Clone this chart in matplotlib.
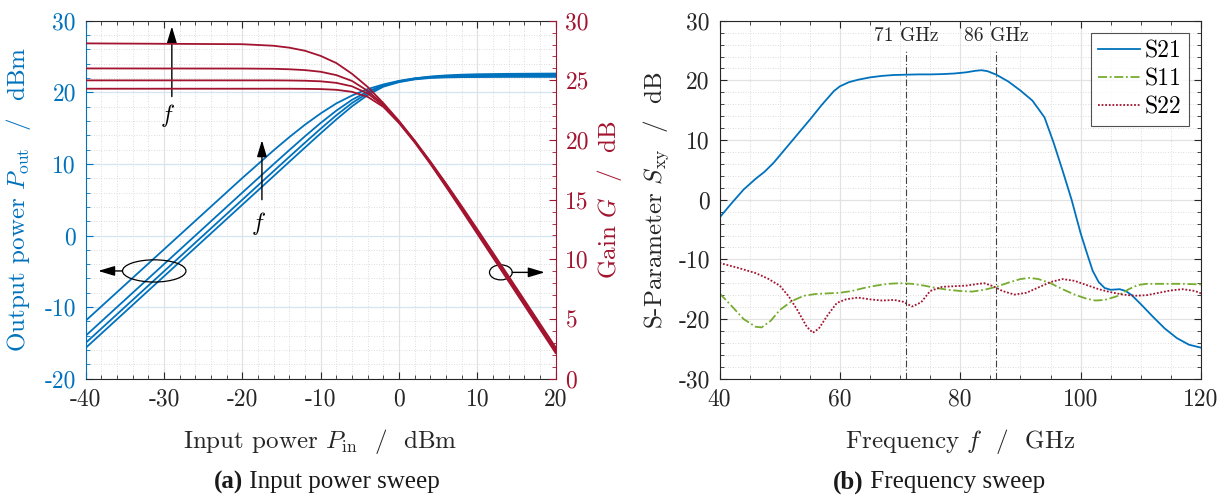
import matplotlib
matplotlib.use("Agg")
import matplotlib.pyplot as plt
from matplotlib.patches import Ellipse
from matplotlib.ticker import MultipleLocator

plt.rcParams['font.family'] = ['cmr10', 'DejaVu Serif']
plt.rcParams['mathtext.fontset'] = 'cm'
plt.rcParams['axes.unicode_minus'] = False

BLUE = '#0072BD'
RED = '#A2142F'
GREEN = '#77AC30'
DARK = '#262626'

# (a) input power sweep, four frequencies
pin = [-40, -20, -16, -14, -12, -10, -8, -6, -4, -2, 0, 2, 4, 6, 8, 10, 14, 20]
pout_1 = [-11.90, 8.03, 11.90, 13.74, 15.48, 17.05, 18.45, 19.55, 20.45, 21.10, 21.60,
          21.95, 22.20, 22.36, 22.46, 22.52, 22.58, 22.62]
pout_2 = [-14.00, 5.99, 9.97, 11.93, 13.86, 15.72, 17.44, 18.95, 20.12, 20.98, 21.55,
          21.93, 22.15, 22.28, 22.35, 22.39, 22.43, 22.45]
pout_3 = [-15.00, 5.00, 9.00, 10.99, 12.97, 14.92, 16.79, 18.50, 19.90, 20.90, 21.48,
          21.86, 22.07, 22.18, 22.23, 22.26, 22.29, 22.30]
pout_4 = [-15.70, 4.30, 8.30, 10.30, 12.29, 14.27, 16.21, 18.04, 19.62, 20.78, 21.42,
          21.80, 22.00, 22.08, 22.12, 22.13, 22.15, 22.15]
gain_1 = [28.10, 28.03, 27.90, 27.74, 27.48, 27.05, 26.45, 25.55, 24.45, 23.10, 21.60,
          19.95, 18.20, 16.36, 14.46, 12.52, 8.58, 2.62]
gain_2 = [26.00, 25.99, 25.97, 25.93, 25.86, 25.72, 25.44, 24.95, 24.12, 22.98, 21.55,
          19.93, 18.15, 16.28, 14.35, 12.39, 8.43, 2.45]
gain_3 = [25.00, 25.00, 25.00, 24.99, 24.97, 24.92, 24.79, 24.50, 23.90, 22.90, 21.48,
          19.86, 18.07, 16.18, 14.23, 12.26, 8.29, 2.30]
gain_4 = [24.30, 24.30, 24.30, 24.30, 24.29, 24.27, 24.21, 24.04, 23.62, 22.78, 21.42,
          19.80, 18.00, 16.08, 14.12, 12.13, 8.15, 2.15]

# (b) frequency sweep
f21 = [40, 42, 44, 46, 47.5, 49, 51, 53, 55, 57, 59, 60, 61.5, 63, 65, 67, 69, 71, 73, 75,
       77, 79, 81, 82.5, 83.5, 84.5, 86, 88, 90, 92, 94, 95.5, 97, 98.5, 100, 101, 102,
       103, 104, 105, 106.5, 107.5, 108.5, 110, 112, 114, 116, 118, 120]
s21 = [-3.0, -0.6, 1.7, 3.5, 4.7, 6.2, 8.6, 11.0, 13.4, 15.9, 18.2, 19.0, 19.7, 20.1, 20.5,
       20.75, 20.9, 20.95, 21.0, 21.0, 21.05, 21.15, 21.35, 21.6, 21.7, 21.55, 20.95, 19.8,
       18.3, 16.6, 13.8, 9.6, 4.9, 0.0, -5.6, -8.8, -11.9, -13.8, -14.8, -15.1, -15.0,
       -15.3, -16.0, -17.5, -19.6, -21.6, -23.2, -24.3, -24.8]
f11 = [40, 42, 44, 46, 47, 48.5, 50, 52, 54, 56, 58, 60, 62, 64, 66, 68, 70, 72, 74, 76, 78,
       80, 82, 84, 86, 88, 90, 91.5, 93, 95, 97, 99, 101, 102.5, 104, 106, 108, 109.5, 111,
       114, 117, 120]
s11 = [-15.7, -17.8, -20.0, -21.3, -21.4, -20.3, -18.5, -17.0, -16.1, -15.8, -15.7, -15.6,
       -15.3, -14.8, -14.4, -14.1, -14.0, -14.1, -14.4, -14.8, -15.1, -15.3, -15.4, -15.1,
       -14.6, -13.9, -13.3, -13.1, -13.3, -14.0, -15.0, -15.9, -16.6, -16.9, -16.8, -16.2,
       -15.0, -14.3, -14.1, -14.1, -14.1, -14.2]
f22 = [40, 43, 46, 48, 50, 51.5, 53, 54.5, 55.5, 56.5, 58, 59.5, 61, 63, 65, 67, 69, 70.5,
       72, 73.5, 75, 77, 79, 81, 83, 84, 85.5, 87, 89, 91, 93, 95, 97, 99, 101, 103, 105,
       107, 109, 111, 113, 115, 117, 119, 120]
s22 = [-10.6, -11.4, -12.3, -13.2, -14.4, -16.2, -18.6, -21.3, -22.3, -21.6, -19.3, -17.3,
       -16.7, -16.4, -16.7, -16.9, -16.8, -17.1, -17.9, -17.2, -15.3, -14.6, -14.5, -14.4,
       -14.1, -14.0, -14.5, -15.3, -15.9, -15.6, -14.7, -13.8, -13.3, -13.6, -14.3, -15.0,
       -15.5, -15.9, -16.1, -16.0, -15.6, -15.2, -15.0, -15.3, -15.7]
marker_freqs = [71, 86]
marker_labels = ['71 GHz', '86 GHz']

FS = 17
LFS = 18

fig = plt.figure(figsize=(12.31, 5), dpi=100)
ax1 = fig.add_axes([0.0696, 0.2426, 0.3818, 0.716])
ax2 = ax1.twinx()
ax3 = fig.add_axes([0.5845, 0.2426, 0.3911, 0.716])


def minor_grid(ax):
    ax.grid(True, which='minor', color='#d2d2d2', lw=0.6, ls=(0, (1, 2)))


# ---- left panel
for p in (pout_1, pout_2, pout_3, pout_4):
    ax1.plot(pin, p, color=BLUE, lw=1.3)
for g in (gain_1, gain_2, gain_3, gain_4):
    ax2.plot(pin, g, color=RED, lw=1.3)

ax1.set_xlim(-40, 20)
ax1.set_ylim(-20, 30)
ax2.set_ylim(0, 30)
ax1.xaxis.set_major_locator(MultipleLocator(10))
ax1.xaxis.set_minor_locator(MultipleLocator(2))
ax1.yaxis.set_major_locator(MultipleLocator(10))
ax1.yaxis.set_minor_locator(MultipleLocator(2))
ax2.yaxis.set_major_locator(MultipleLocator(5))
ax2.yaxis.set_minor_locator(MultipleLocator(1))
ax1.set_axisbelow(True)
ax1.xaxis.grid(True, which='major', color='#e2e2e2', lw=0.9)
ax1.yaxis.grid(True, which='major', color='#d3e5f3', lw=0.9)
minor_grid(ax1)

ax1.tick_params(which='both', direction='in', top=True, right=False, labelsize=FS,
                color=DARK, pad=7)
ax1.tick_params(which='major', length=5, width=0.8)
ax1.tick_params(which='minor', length=3, width=0.6)
ax1.tick_params(axis='y', which='both', colors=BLUE)
ax2.tick_params(which='both', direction='in', colors=RED, labelsize=FS, pad=7)
ax2.tick_params(which='major', length=5, width=0.8)
ax2.tick_params(which='minor', length=3, width=0.6)
ax1.tick_params(axis='x', colors=DARK)

ax1.spines['left'].set_color(BLUE)
ax1.spines['right'].set_visible(False)
for s in ('top', 'bottom'):
    ax1.spines[s].set_color(DARK)
ax2.spines['right'].set_color(RED)
for s in ('left', 'top', 'bottom'):
    ax2.spines[s].set_visible(False)

ax1.set_xlabel('Input power $P_\\mathrm{in}$  /  dBm', fontsize=LFS, color=DARK)
ax1.set_ylabel('Output power $P_\\mathrm{out}$  /  dBm', fontsize=LFS, color=BLUE)
ax2.set_ylabel('Gain $G$  /  dB', fontsize=LFS, color=RED)
ax1.yaxis.set_label_coords(-0.112, 0.5)
ax2.yaxis.set_label_coords(1.083, 0.5)
ax1.xaxis.set_label_coords(0.5, -0.135)

arrow = dict(arrowstyle='-|>,head_length=1.0,head_width=0.3', color='k', lw=1.0,
             shrinkA=0, shrinkB=0)
ax1.annotate('', xy=(-29.0, 29.2), xytext=(-29.0, 19.4), arrowprops=arrow)
ax1.text(-29.5, 16.8, '$f$', fontsize=FS, ha='center', va='center')
ax1.annotate('', xy=(-17.5, 13.3), xytext=(-17.5, 5.0), arrowprops=arrow)
ax1.text(-17.9, 1.7, '$f$', fontsize=FS, ha='center', va='center')
ax1.add_patch(Ellipse((-31.25, -4.95), 8.1, 3.1, fill=False, ec='k', lw=0.9, zorder=5))
ax1.annotate('', xy=(-38.4, -4.95), xytext=(-35.3, -4.95), arrowprops=arrow)
ax1.add_patch(Ellipse((13.0, -5.15), 2.9, 2.1, fill=False, ec='k', lw=0.9, zorder=5))
ax1.annotate('', xy=(18.6, -5.15), xytext=(14.45, -5.15), arrowprops=arrow)

# ---- right panel
ax3.plot(f21, s21, color=BLUE, lw=1.3, label='S21')
ax3.plot(f11, s11, color=GREEN, lw=1.3, ls=(0, (5, 1.5, 1, 1.5)), label='S11')
ax3.plot(f22, s22, color=RED, lw=1.3, ls=(0, (1, 1)), label='S22')
for fm, lab in zip(marker_freqs, marker_labels):
    ax3.plot([fm, fm], [-30, 25], color='#404040', lw=0.8, ls=(0, (6, 2, 1, 2)))
    ax3.text(fm, 27.4, lab, fontsize=14, ha='center', va='center', color=DARK)

ax3.set_xlim(40, 120)
ax3.set_ylim(-30, 30)
ax3.xaxis.set_major_locator(MultipleLocator(20))
ax3.xaxis.set_minor_locator(MultipleLocator(5))
ax3.yaxis.set_major_locator(MultipleLocator(10))
ax3.yaxis.set_minor_locator(MultipleLocator(2))
ax3.set_axisbelow(True)
ax3.grid(True, which='major', color='#e2e2e2', lw=0.9)
minor_grid(ax3)
ax3.tick_params(which='both', direction='in', top=True, right=True, labelsize=FS,
                color=DARK, labelcolor=DARK, pad=7)
ax3.tick_params(which='major', length=5, width=0.8)
ax3.tick_params(which='minor', length=3, width=0.6)
for s in ax3.spines.values():
    s.set_color(DARK)
ax3.set_xlabel('Frequency $f$  /  GHz', fontsize=LFS, color=DARK)
ax3.set_ylabel('S-Parameter $S_\\mathrm{xy}$  /  dB', fontsize=LFS, color=DARK)
ax3.yaxis.set_label_coords(-0.1, 0.5)
ax3.xaxis.set_label_coords(0.5, -0.135)
leg = ax3.legend(loc='upper right', bbox_to_anchor=(0.975, 0.965), fontsize=FS,
                 frameon=True, fancybox=False, edgecolor=DARK, handlelength=1.8,
                 handletextpad=0.2, borderpad=0.3, labelspacing=0.25, borderaxespad=0)
leg.get_frame().set_linewidth(0.8)

# ---- captions
cap = dict(fontsize=18, family='Liberation Serif', va='center', color='#1a1a1a')
fig.text(243 / 1231, 0.036, '(a)', ha='right', weight='bold', **cap)
fig.text(243 / 1231, 0.036, ' Input power sweep', ha='left', **cap)
fig.text(864 / 1231, 0.036, '(b)', ha='right', weight='bold', **cap)
fig.text(864 / 1231, 0.036, ' Frequency sweep', ha='left', **cap)

fig.savefig('out.png', dpi=100)
